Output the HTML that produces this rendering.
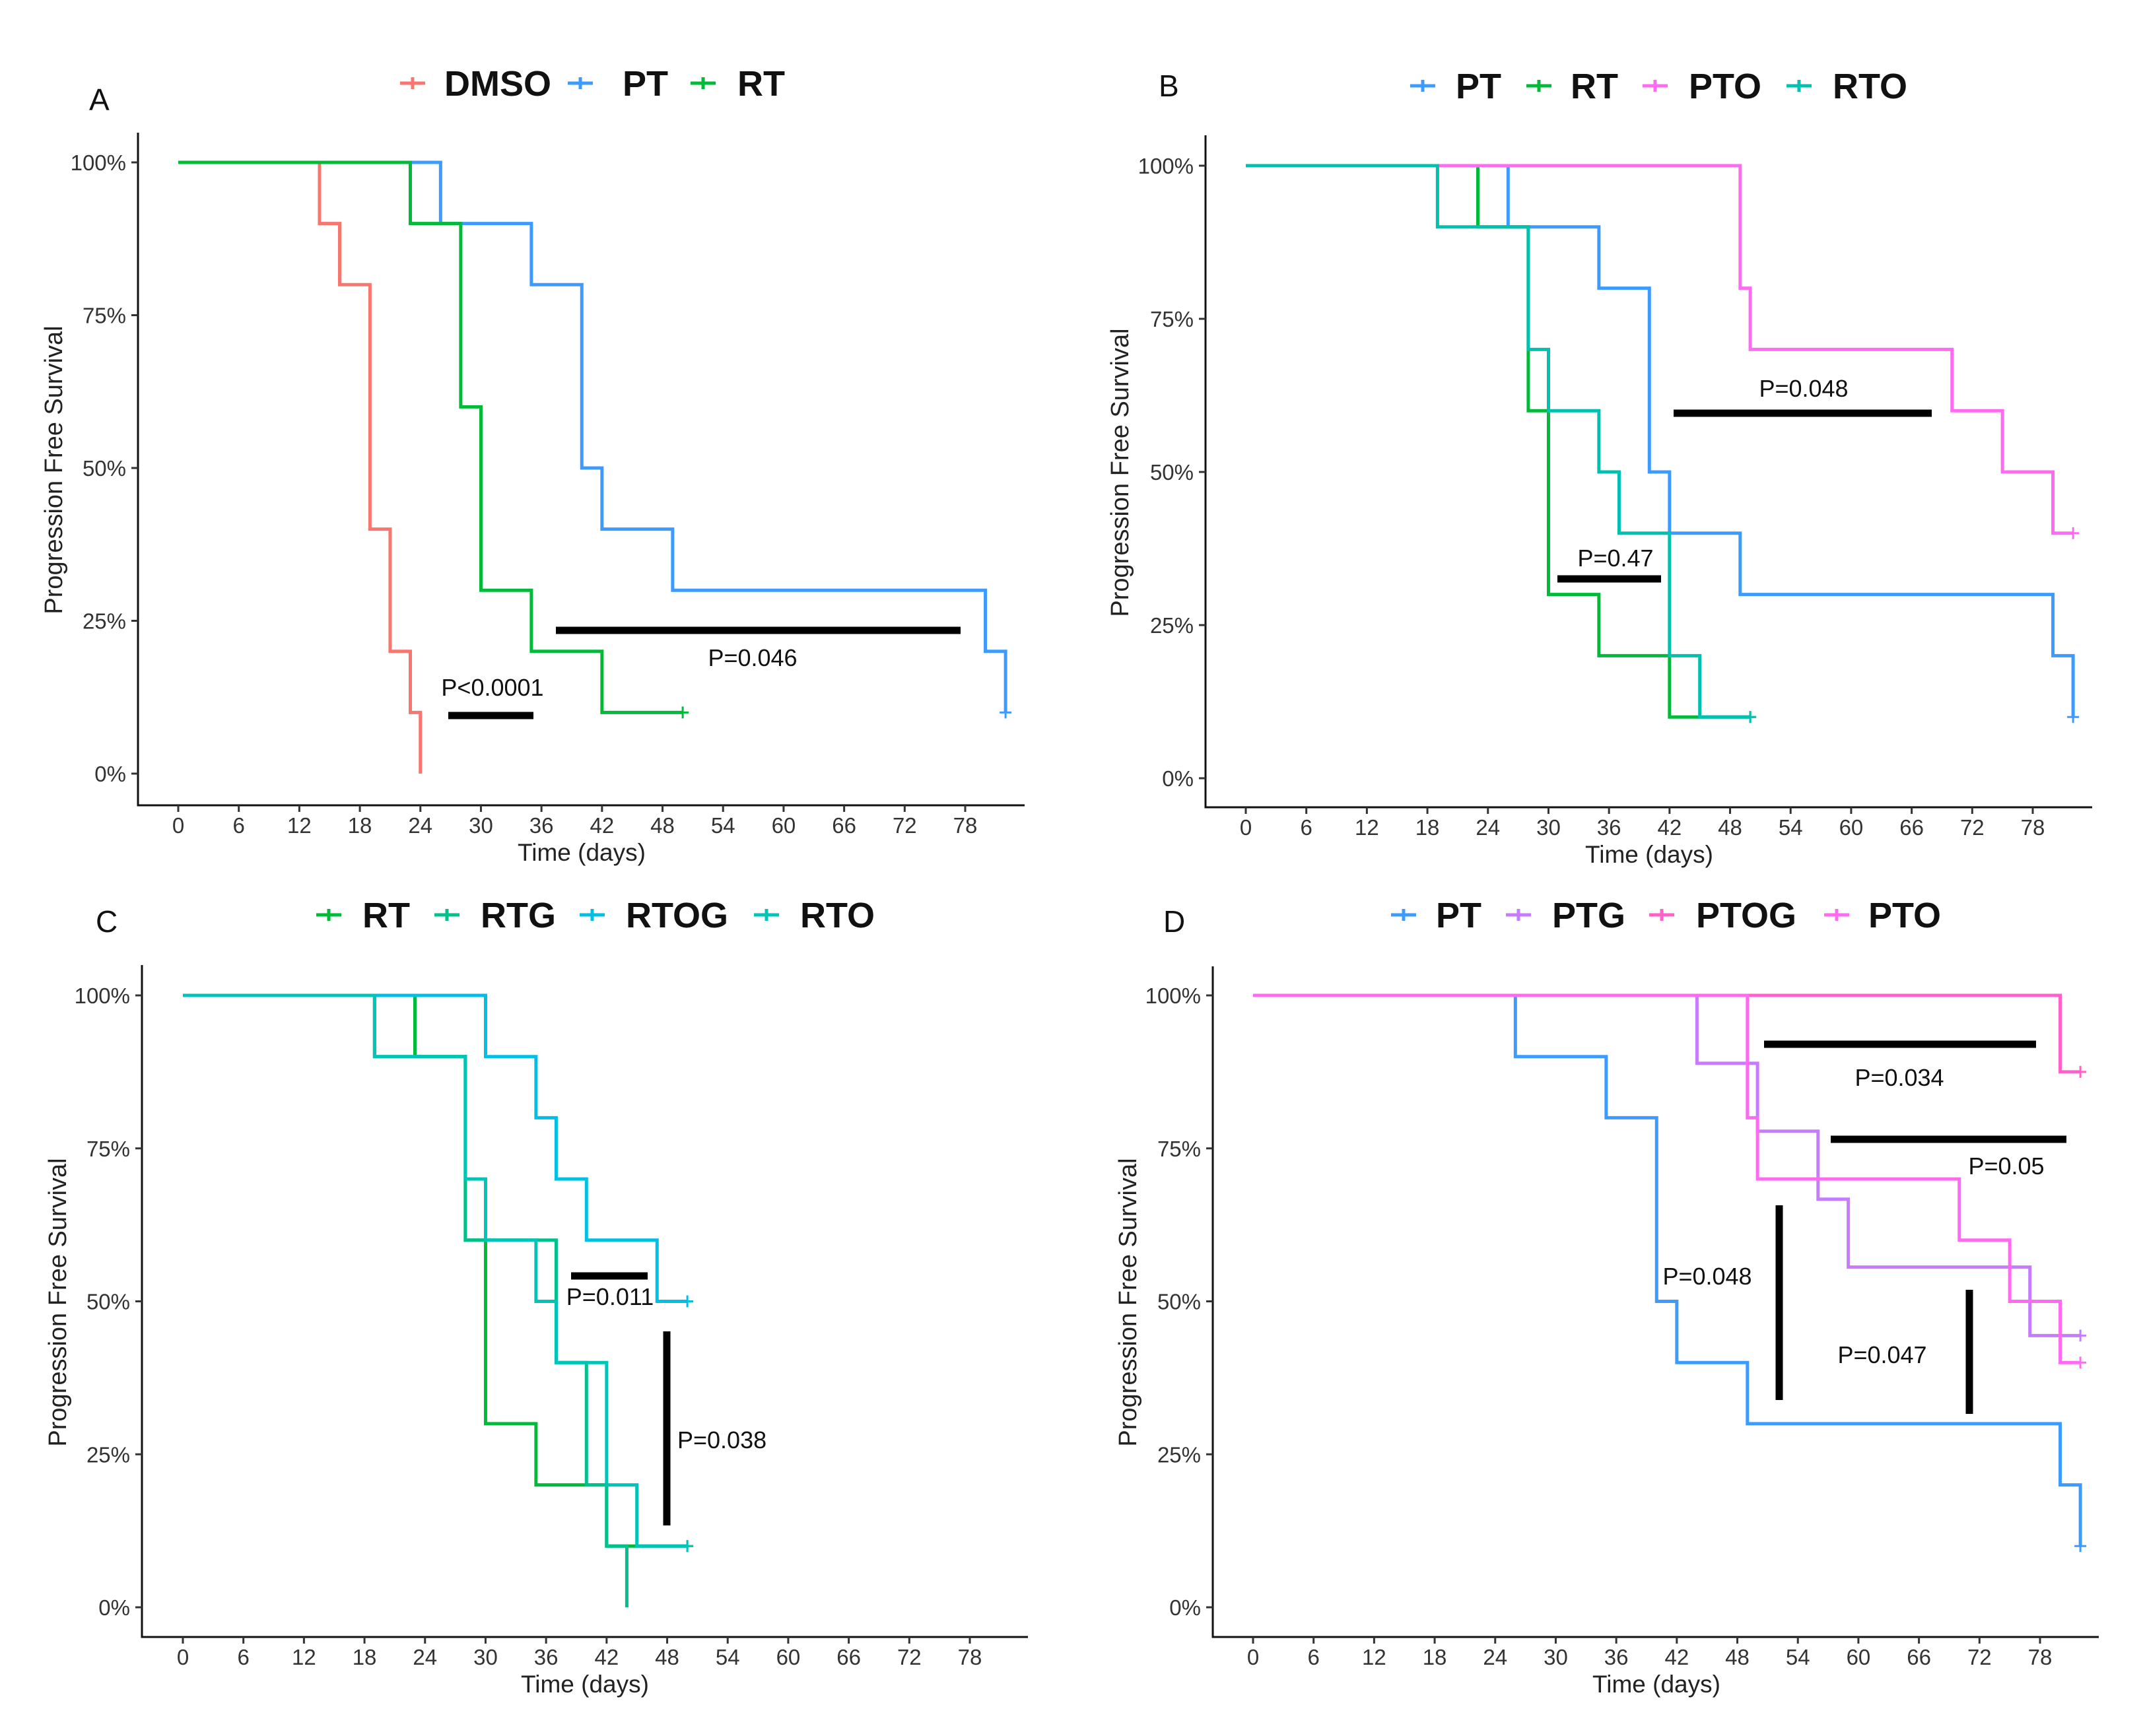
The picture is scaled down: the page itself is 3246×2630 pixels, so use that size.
<!DOCTYPE html>
<html><head><meta charset="utf-8"><style>
html,body{margin:0;padding:0;background:#fff;}
svg{display:block;}
text{font-family:"Liberation Sans",sans-serif;}
</style></head><body>
<svg id="fig" xmlns="http://www.w3.org/2000/svg" width="3246" height="2630" viewBox="0 0 3246 2630"></svg>
<script>
// ===== Data (days, survival %) =====
const xTicks = [0,6,12,18,24,30,36,42,48,54,60,66,72,78];
const yTicks = [0,25,50,75,100];
const yTickLabels = ["0%","25%","50%","75%","100%"];

// Panel A
const aDmsoTimes = [14,16,19,21,23,24];  const aDmsoSurv = [90,80,40,20,10,0];
const aPtTimes   = [26,35,40,42,49,80,82]; const aPtSurv = [90,80,50,40,30,20,10];
const aRtTimes   = [23,28,30,35,42];      const aRtSurv = [90,60,30,20,10];
// Panel B
const bPtTimes  = [26,35,40,42,49,80,82]; const bPtSurv = [90,80,50,40,30,20,10];
const bRtTimes  = [23,28,30,35,42];       const bRtSurv = [90,60,30,20,10];
const bPtoTimes = [49,50,70,75,80];       const bPtoSurv = [80,70,60,50,40];
const bRtoTimes = [19,28,30,35,37,42,45]; const bRtoSurv = [90,70,60,50,40,20,10];
// Panel C
const cRtTimes   = [23,28,30,35,42];       const cRtSurv = [90,60,30,20,10];
const cRtgTimes  = [19,28,37,40,42,44];    const cRtgSurv = [90,60,40,20,10,0];
const cRtogTimes = [30,35,37,40,47];       const cRtogSurv = [90,80,70,60,50];
const cRtoTimes  = [19,28,30,35,37,42,45]; const cRtoSurv = [90,70,60,50,40,20,10];
// Panel D
const dPtTimes   = [26,35,40,42,49,80,82]; const dPtSurv = [90,80,50,40,30,20,10];
const dPtgTimes  = [44,50,56,59,77];       const dPtgSurv = [88.9,77.8,66.7,55.6,44.4];
const dPtogTimes = [80];                   const dPtogSurv = [87.5];
const dPtoTimes  = [49,50,70,75,80];       const dPtoSurv = [80,70,60,50,40];

const NS = "http://www.w3.org/2000/svg";
const svg = document.getElementById("fig");
function el(tag, attrs, parent){
  const e = document.createElementNS(NS, tag);
  for (const k in attrs) e.setAttribute(k, attrs[k]);
  (parent||svg).appendChild(e);
  return e;
}

const panels = [
  {id:"a", letter:"A", lx:135, ly:151, axX:209, axTop:201, axY:1220, axR:1552, x0:270, x78:1462, y100:246, y0:1172, titleX:81, titleY:712, xlabX:881, legY:126,
   series:[
    {name:"DMSO", color:"#F8766D", t:aDmsoTimes, s:aDmsoSurv, end:24, cens:false, kx:606, tx:673},
    {name:"PT", color:"#3D9BFF", t:aPtTimes, s:aPtSurv, end:82, cens:true, kx:860, tx:943},
    {name:"RT", color:"#00BA38", t:aRtTimes, s:aRtSurv, end:50, cens:true, kx:1046, tx:1117}],
   notes:[{x1:679,y1:1084,x2:808,y2:1084,text:"P<0.0001",tx:746,ty:1041,anchor:"middle"},
          {x1:842,y1:955,x2:1455,y2:955,text:"P=0.046",tx:1140,ty:996,anchor:"middle"}]},
  {id:"b", letter:"B", lx:1755, ly:130, axX:1826, axTop:205, axY:1223, axR:3169, x0:1887, x78:3079, y100:251, y0:1179, titleX:1696, titleY:716, xlabX:2498, legY:130,
   series:[
    {name:"PT", color:"#3D9BFF", t:bPtTimes, s:bPtSurv, end:82, cens:true, kx:2136, tx:2205},
    {name:"RT", color:"#00BA38", t:bRtTimes, s:bRtSurv, end:50, cens:true, kx:2312, tx:2379},
    {name:"PTO", color:"#FF6BF0", t:bPtoTimes, s:bPtoSurv, end:82, cens:true, kx:2488, tx:2558},
    {name:"RTO", color:"#00C0B0", t:bRtoTimes, s:bRtoSurv, end:50, cens:true, kx:2706, tx:2776}],
   notes:[{x1:2535,y1:626,x2:2926,y2:626,text:"P=0.048",tx:2732,ty:588,anchor:"middle"},
          {x1:2359,y1:877,x2:2516,y2:877,text:"P=0.47",tx:2447,ty:845,anchor:"middle"}]},
  {id:"c", letter:"C", lx:145, ly:1396, axX:215, axTop:1462, axY:2480, axR:1557, x0:277, x78:1469, y100:1508, y0:2435, titleX:87, titleY:1973, xlabX:886, legY:1386,
   series:[
    {name:"RT", color:"#00BA38", t:cRtTimes, s:cRtSurv, end:50, cens:true, kx:479, tx:549},
    {name:"RTG", color:"#00C08B", t:cRtgTimes, s:cRtgSurv, end:44, cens:false, kx:658, tx:728},
    {name:"RTOG", color:"#00BFE4", t:cRtogTimes, s:cRtogSurv, end:50, cens:true, kx:878, tx:948},
    {name:"RTO", color:"#00C4B8", t:cRtoTimes, s:cRtoSurv, end:50, cens:true, kx:1142, tx:1212}],
   notes:[{x1:865,y1:1933,x2:981,y2:1933,text:"P=0.011",tx:924,ty:1964,anchor:"middle"},
          {x1:1010,y1:2017,x2:1010,y2:2311,text:"P=0.038",tx:1026,ty:2181,anchor:"start"}]},
  {id:"d", letter:"D", lx:1762, ly:1396, axX:1837, axTop:1464, axY:2480, axR:3179, x0:1898, x78:3090, y100:1508, y0:2435, titleX:1708, titleY:1973, xlabX:2509, legY:1386,
   series:[
    {name:"PT", color:"#3D9BFF", t:dPtTimes, s:dPtSurv, end:82, cens:true, kx:2107, tx:2175},
    {name:"PTG", color:"#C77CFF", t:dPtgTimes, s:dPtgSurv, end:82, cens:true, kx:2281, tx:2351},
    {name:"PTOG", color:"#FF61C9", t:dPtogTimes, s:dPtogSurv, end:82, cens:true, kx:2498, tx:2569},
    {name:"PTO", color:"#FF6BF0", t:dPtoTimes, s:dPtoSurv, end:82, cens:true, kx:2763, tx:2830}],
   notes:[{x1:2672,y1:1582,x2:3084,y2:1582,text:"P=0.034",tx:2877,ty:1632,anchor:"middle"},
          {x1:2773,y1:1726,x2:3130,y2:1726,text:"P=0.05",tx:3039,ty:1766,anchor:"middle"},
          {x1:2695,y1:1826,x2:2695,y2:2121,text:"P=0.048",tx:2586,ty:1933,anchor:"middle"},
          {x1:2983,y1:1954,x2:2983,y2:2142,text:"P=0.047",tx:2851,ty:2052,anchor:"middle"}]}
];

panels.forEach(p => {
  const g = el("g", {});
  
  
  const sx = d => p.x0 + (p.x78 - p.x0) * d / 78;
  const sy = v => p.y0 + (p.y100 - p.y0) * v / 100;

  const letter = el("text", {x:p.lx, y:p.ly+16, "font-size":46, fill:"#111"}, g);
  letter.textContent = p.letter;
  
  

  // axes
  const ax = el("path", {d:`M${p.axX} ${p.axTop} V${p.axY} H${p.axR}`, stroke:"#111", "stroke-width":3, fill:"none"}, g);
  
  

  xTicks.forEach(t => {
    const x = sx(t);
    el("line", {x1:x, y1:p.axY, x2:x, y2:p.axY+10, stroke:"#333", "stroke-width":3}, g);
    const tl = el("text", {x:x, y:p.axY+42, "font-size":33, fill:"#333", "text-anchor":"middle"}, g);
    tl.textContent = t;
    
    
  });
  yTicks.forEach((v,i) => {
    const y = sy(v);
    el("line", {x1:p.axX-10, y1:y, x2:p.axX, y2:y, stroke:"#333", "stroke-width":3}, g);
    const tl = el("text", {x:p.axX-18, y:y+12, "font-size":33, fill:"#333", "text-anchor":"end"}, g);
    tl.textContent = yTickLabels[i];
    
    
  });

  const yt = el("text", {x:p.titleX, y:p.titleY, "font-size":38, fill:"#222", "text-anchor":"middle", transform:`rotate(-90 ${p.titleX} ${p.titleY})`, dy:"13"}, g);
  yt.textContent = "Progression Free Survival";
  
  
  const xt = el("text", {x:p.xlabX, y:p.axY+84, "font-size":37, fill:"#222", "text-anchor":"middle"}, g);
  xt.textContent = "Time (days)";
  
  

  // series
  p.series.forEach(s => {
    let d = `M${sx(0)} ${sy(100)}`;
    s.t.forEach((t,i) => { d += ` H${sx(t)} V${sy(s.s[i])}`; });
    d += ` H${sx(s.end)}`;
    const path = el("path", {d:d, stroke:s.color, "stroke-width":5, fill:"none", "stroke-linejoin":"miter"}, g);
    
    
    if (s.cens) {
      const cx = sx(s.end), cy = sy(s.s[s.s.length-1]);
      const c = el("path", {d:`M${cx-9} ${cy} H${cx+9} M${cx} ${cy-9} V${cy+9}`, stroke:s.color, "stroke-width":3}, g);
      
      
    }
    // legend
    const lk = el("path", {d:`M${s.kx} ${p.legY} H${s.kx+38} M${s.kx+19} ${p.legY-9} V${p.legY+9}`, stroke:s.color, "stroke-width":5}, g);
    
    
    const lt = el("text", {x:s.tx, y:p.legY+19, "font-size":54, "font-weight":"bold", fill:"#111"}, g);
    lt.textContent = s.name;
    
    
  });

  // p-value annotations
  p.notes.forEach(n => {
    const ln = el("line", {x1:n.x1, y1:n.y1, x2:n.x2, y2:n.y2, stroke:"#000", "stroke-width":11}, g);
    
    
    const t = el("text", {x:n.tx, y:n.ty+13, "font-size":36, fill:"#111", "text-anchor":n.anchor}, g);
    t.textContent = n.text;
    
    
  });
});
</script>
</body></html>
